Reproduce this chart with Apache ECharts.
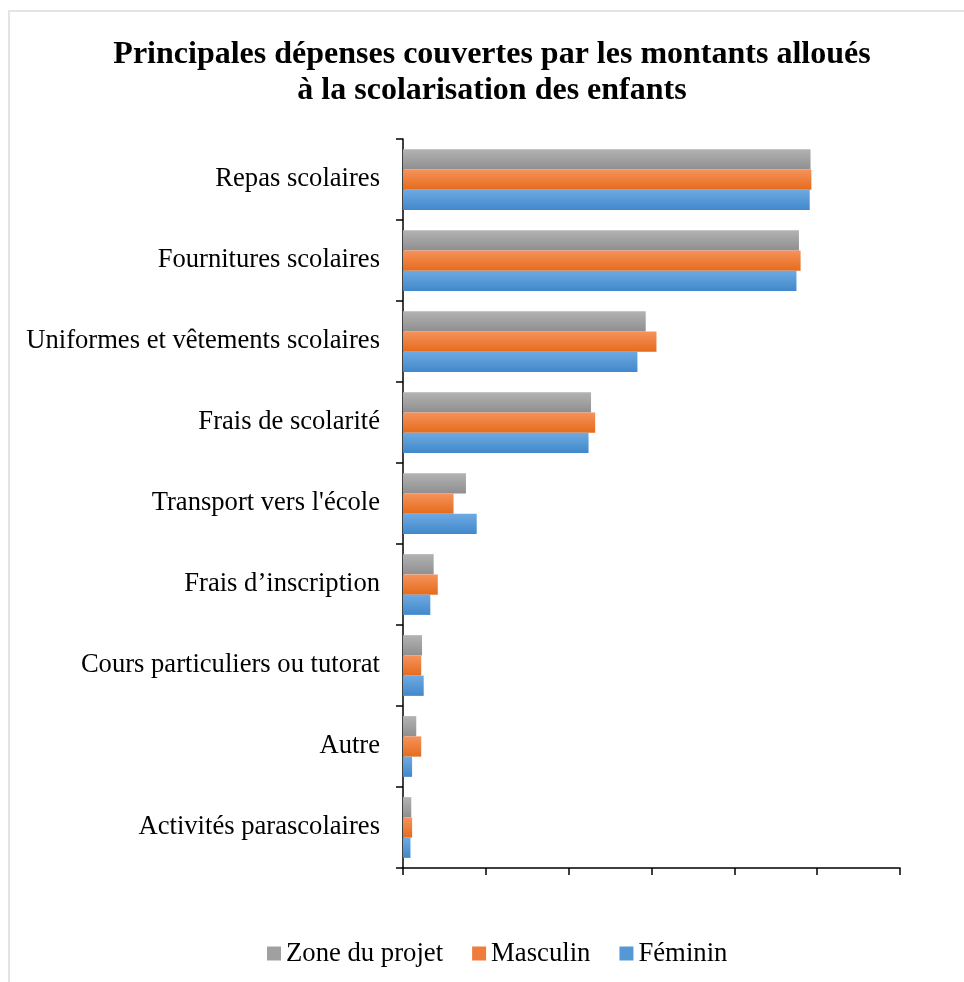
<!DOCTYPE html>
<html>
<head>
<meta charset="utf-8">
<script src="https://cdn.jsdelivr.net/npm/echarts@6/dist/echarts.min.js"></script>
<style>
  html, body { margin: 0; padding: 0; background: #fff; }
  #frame { position: absolute; left: 8px; top: 10px; width: 980px; height: 990px;
           border-top: 2px solid #e1e4e9; border-left: 2px solid #e1e4e9; box-sizing: border-box; }
  #chart { position: absolute; left: 0; top: 0; width: 964px; height: 982px; }
</style>
</head>
<body>
<div id="frame"></div>
<div id="chart"></div>
<script>
// Categories listed from bottom to top of the chart
const categories = [
  "Activités parascolaires",
  "Autre",
  "Cours particuliers ou tutorat",
  "Frais d’inscription",
  "Transport vers l'école",
  "Frais de scolarité",
  "Uniformes et vêtements scolaires",
  "Fournitures scolaires",
  "Repas scolaires"
];
const seriesNames = ["Zone du projet", "Masculin", "Féminin"];
const zoneProjet = [1.0, 1.6, 2.3, 3.7, 7.6, 22.7, 29.3, 47.8, 49.2];
const masculin   = [1.1, 2.2, 2.2, 4.2, 6.1, 23.2, 30.6, 48.0, 49.3];
const feminin    = [0.9, 1.1, 2.5, 3.3, 8.9, 22.4, 28.3, 47.5, 49.1];
const titleText = 'Principales dépenses couvertes par les montants alloués\nà la scolarisation des enfants';

function grad(top, bottom) {
  return new echarts.graphic.LinearGradient(0, 0, 0, 1, [
    { offset: 0, color: top }, { offset: 1, color: bottom }
  ]);
}
const colors = {
  "Zone du projet": grad('#b3b3b3', '#8f8f8f'),
  "Masculin": grad('#f5935c', '#e66b1c'),
  "Féminin": grad('#6eaae2', '#4188cb')
};
const legendColors = { "Zone du projet": '#a0a0a0', "Masculin": '#ef7c3a', "Féminin": '#5598d6' };

const chart = echarts.init(document.getElementById('chart'), null, { renderer: 'canvas' });
const font = '"Liberation Serif", "Times New Roman", serif';

function mk(name, data) {
  return {
    name: name,
    type: 'bar',
    data: data,
    barGap: '0%',
    barCategoryGap: '25%',
    itemStyle: { color: colors[name] },
    emphasis: { disabled: true }
  };
}

chart.setOption({
  animation: false,
  backgroundColor: 'transparent',
  graphic: [{
    type: 'text',
    x: 492,
    y: 37,
    silent: true,
    style: {
      text: titleText,
      align: 'center',
      verticalAlign: 'top',
      fontFamily: font,
      fontWeight: 'bold',
      fontSize: 32,
      lineHeight: 36,
      fill: '#000'
    }
  }],
  legend: {
    bottom: 10,
    left: 262,
    padding: 5,
    data: seriesNames.map(n => ({ name: n, itemStyle: { color: legendColors[n] } })),
    icon: 'rect',
    itemWidth: 14,
    itemHeight: 14,
    itemGap: 29,
    textStyle: { fontFamily: font, fontSize: 26.7, color: '#000' }
  },
  grid: { left: 403, right: 64, top: 139, bottom: 114, containLabel: false },
  xAxis: {
    type: 'value',
    min: 0,
    max: 60,
    interval: 10,
    axisLine: { show: true, lineStyle: { color: '#000', width: 1.5 } },
    axisTick: { show: true, length: 7, inside: false, lineStyle: { color: '#000', width: 1.5 } },
    axisLabel: { show: false },
    splitLine: { show: false }
  },
  yAxis: {
    type: 'category',
    data: categories,
    axisLine: { show: true, lineStyle: { color: '#000', width: 1.5 } },
    axisTick: { show: true, length: 7, alignWithLabel: false, lineStyle: { color: '#000', width: 1.5 } },
    axisLabel: { fontFamily: font, fontSize: 26.6, color: '#000', margin: 23, padding: [2, 0, 0, 0] },
    splitLine: { show: false }
  },
  series: [
    mk("Zone du projet", zoneProjet),
    mk("Masculin", masculin),
    mk("Féminin", feminin)
  ]
});
</script>
</body>
</html>
